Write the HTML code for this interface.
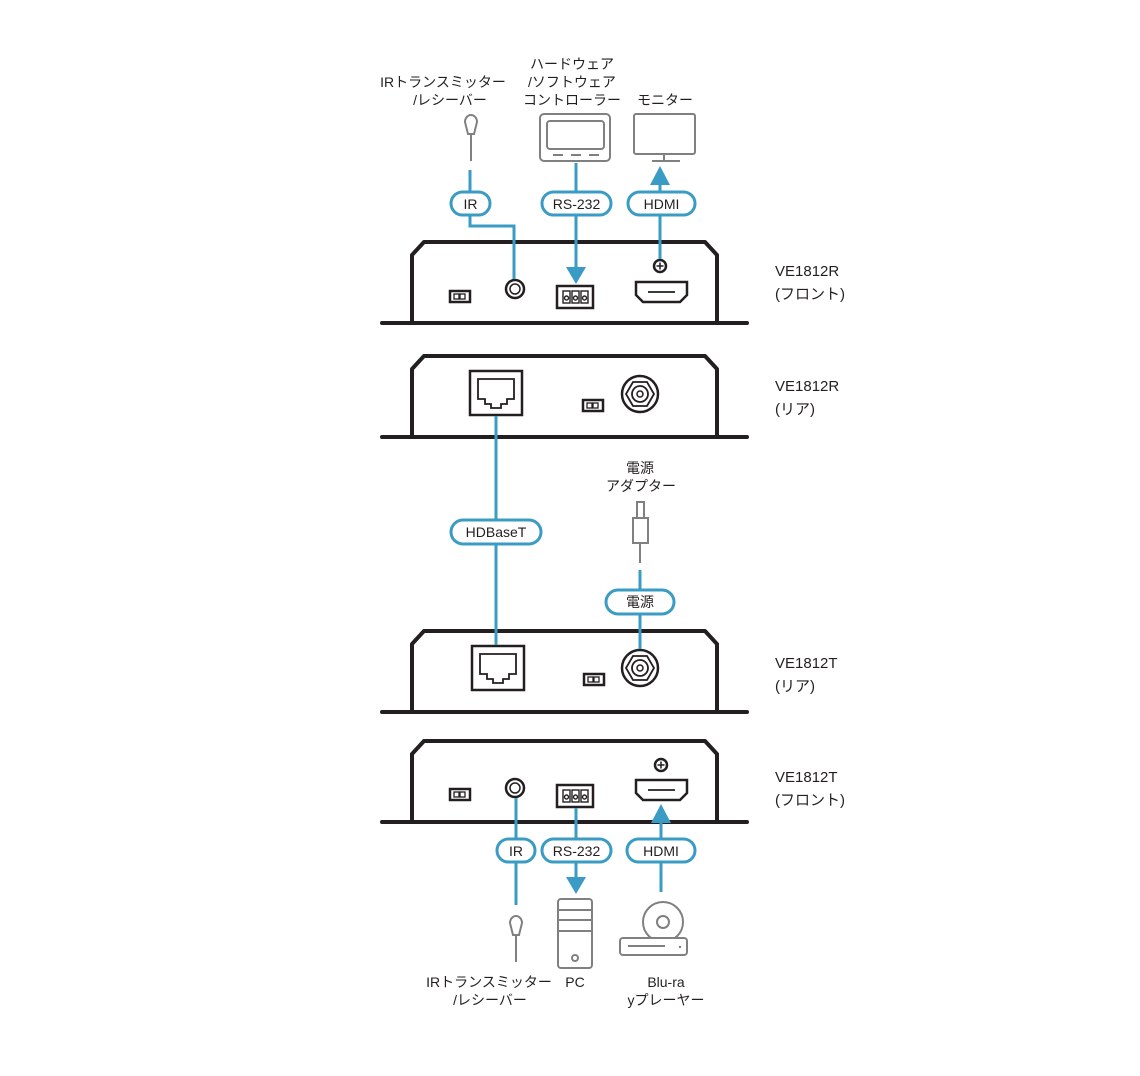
<!DOCTYPE html>
<html><head><meta charset="utf-8"><style>
body{margin:0;background:#fff}
svg{display:block}
text{font-family:"Liberation Sans","Noto Sans CJK JP",sans-serif;fill:#231f20}
</style></head><body>
<svg width="1140" height="1076" viewBox="0 0 1140 1076" xmlns="http://www.w3.org/2000/svg">
<defs>
<g id="box" fill="none" stroke="#231f20" stroke-width="4">
<path d="M412,82 V14 L424,1 H705 L717,14 V82" stroke-linejoin="round"/>
<line x1="382" y1="82" x2="747" y2="82" stroke-linecap="round"/>
</g>
<g id="dip"><rect x="0" y="0" width="20" height="11" fill="none" stroke="#231f20" stroke-width="2.5"/><rect x="4" y="3" width="5" height="5" fill="none" stroke="#231f20" stroke-width="1.3"/><rect x="10" y="3" width="5" height="5" fill="none" stroke="#231f20" stroke-width="1.3"/></g>
<g id="rj"><rect x="0" y="0" width="52" height="44" fill="none" stroke="#231f20" stroke-width="2.5"/><path d="M8,8 H44 V28 H37 V33 H31 V37 H21 V33 H15 V28 H8 Z" fill="none" stroke="#231f20" stroke-width="1.8"/></g>
<g id="bnc" fill="none" stroke="#231f20"><circle r="18" stroke-width="2.5"/><polygon points="14,0 7,12 -7,12 -14,0 -7,-12 7,-12" stroke-width="1.8"/><circle r="8" stroke-width="1.8"/><circle r="3" stroke-width="1.5"/></g>
<g id="rs"><rect x="0" y="0" width="36" height="22" fill="none" stroke="#231f20" stroke-width="2.5"/>
<g fill="none" stroke="#231f20" stroke-width="1.4"><rect x="6" y="5" width="7" height="12"/><rect x="15" y="5" width="7" height="12"/><rect x="24" y="5" width="7" height="12"/><circle cx="9.5" cy="12" r="2"/><circle cx="18.5" cy="12" r="2"/><circle cx="27.5" cy="12" r="2"/></g></g>
<g id="hdmi"><path d="M0,0 H51 V13 L44,20 H7 L0,13 Z" fill="none" stroke="#231f20" stroke-width="2.5"/><line x1="12" y1="10" x2="39" y2="10" stroke="#231f20" stroke-width="1.8"/></g>
<g id="screw"><circle r="6" fill="none" stroke="#231f20" stroke-width="2.5"/><path d="M-3.5,0 H3.5 M0,-3.5 V3.5" stroke="#231f20" stroke-width="1.5"/></g>
<g id="jack"><circle r="9" fill="none" stroke="#231f20" stroke-width="2.5"/><circle r="5" fill="none" stroke="#231f20" stroke-width="1.5"/></g>
<g id="remote" fill="none" stroke="#808080" stroke-width="2"><path d="M-3,19 L-6,7 A6,7 0 0 1 6,7 L3,19 Z"/><line x1="0" y1="19" x2="0" y2="46"/></g>
</defs>

<g font-size="14" text-anchor="middle">
<text x="443" y="87">IRトランスミッター</text>
<text x="450" y="105">/レシーバー</text>
<text x="572" y="69">ハードウェア</text>
<text x="572" y="87">/ソフトウェア</text>
<text x="572" y="105">コントローラー</text>
<text x="665" y="105">モニター</text>
</g>
<use href="#remote" x="471" y="115"/>
<rect x="540" y="114" width="70" height="47" rx="4" fill="none" stroke="#808080" stroke-width="2"/>
<rect x="547" y="121" width="57" height="28" rx="3" fill="none" stroke="#808080" stroke-width="2"/>
<path d="M553,155 H563 M571,155 H581 M589,155 H599" stroke="#808080" stroke-width="2"/>
<rect x="634" y="114" width="61" height="40" rx="2" fill="none" stroke="#808080" stroke-width="2"/>
<path d="M664,154 V161 M652,161 H680" stroke="#808080" stroke-width="2"/>

<use href="#box" x="0" y="241"/>
<use href="#dip" x="450" y="291"/>
<use href="#jack" x="515" y="289"/>
<use href="#rs" x="557" y="286"/>
<use href="#hdmi" x="636" y="282"/>
<use href="#screw" x="660" y="266"/>
<use href="#box" x="0" y="355"/>
<use href="#rj" x="470" y="371"/>
<use href="#dip" x="583" y="400"/>
<use href="#bnc" x="640" y="394"/>
<use href="#box" x="0" y="630"/>
<use href="#rj" x="472" y="646"/>
<use href="#dip" x="584" y="674"/>
<use href="#bnc" x="640" y="668"/>
<use href="#box" x="0" y="740"/>
<use href="#dip" x="450" y="789"/>
<use href="#jack" x="515" y="788"/>
<use href="#rs" x="557" y="785"/>
<use href="#hdmi" x="636" y="780"/>
<use href="#screw" x="661" y="765"/>

<g stroke="#3a9cc4" stroke-width="3" fill="none">
<path d="M470,170 V226 H514 V279"/>
<path d="M576,163 V268"/>
<path d="M660,259 V183"/>
<path d="M496,416 V645"/>
<path d="M640,570 V649"/>
<path d="M516,798 V905"/>
<path d="M576,808 V880"/>
<path d="M661,892 V822"/>
</g>
<g fill="#3a9cc4">
<polygon points="566,267 586,267 576,284"/>
<polygon points="650,185 670,185 660,166"/>
<polygon points="566,877 586,877 576,894"/>
<polygon points="651,823 671,823 661,804"/>
</g>
<g fill="#fff" stroke="#3a9cc4" stroke-width="3">
<rect x="451" y="192" width="39" height="23" rx="11.5"/>
<rect x="542" y="192" width="69" height="23" rx="11.5"/>
<rect x="628" y="192" width="67" height="23" rx="11.5"/>
<rect x="451" y="520" width="90" height="24" rx="12"/>
<rect x="606" y="590" width="68" height="24" rx="12"/>
<rect x="497" y="839" width="38" height="23" rx="11.5"/>
<rect x="542" y="839" width="69" height="23" rx="11.5"/>
<rect x="627" y="839" width="68" height="23" rx="11.5"/>
</g>
<g font-size="14" text-anchor="middle">
<text x="470.5" y="209">IR</text>
<text x="576.5" y="209">RS-232</text>
<text x="661.5" y="209">HDMI</text>
<text x="496" y="537">HDBaseT</text>
<text x="640" y="607">電源</text>
<text x="516" y="856">IR</text>
<text x="576.5" y="856">RS-232</text>
<text x="661" y="856">HDMI</text>
</g>

<g font-size="14" text-anchor="middle">
<text x="640" y="473">電源</text>
<text x="641" y="491">アダプター</text>
</g>
<g fill="none" stroke="#808080" stroke-width="2">
<rect x="637" y="502" width="7" height="16"/>
<rect x="633" y="518" width="15" height="25"/>
<line x1="640" y1="543" x2="640" y2="563"/>
</g>

<use href="#remote" x="516" y="916"/>
<rect x="558" y="899" width="34" height="69" rx="3" fill="none" stroke="#808080" stroke-width="2"/>
<path d="M558,910 H592 M558,920 H592 M558,931 H592" stroke="#808080" stroke-width="2"/>
<circle cx="575" cy="958" r="3" fill="none" stroke="#808080" stroke-width="2"/>
<circle cx="663" cy="922" r="20" fill="#fff" stroke="#808080" stroke-width="2"/>
<circle cx="663" cy="922" r="6" fill="none" stroke="#808080" stroke-width="2"/>
<rect x="620" y="938" width="67" height="17" rx="3" fill="#fff" stroke="#808080" stroke-width="2"/>
<line x1="628" y1="946" x2="665" y2="946" stroke="#808080" stroke-width="2"/>
<circle cx="680" cy="947" r="1.2" fill="#808080"/>
<g font-size="14" text-anchor="middle">
<text x="489" y="987">IRトランスミッター</text>
<text x="490" y="1005">/レシーバー</text>
<text x="575" y="987">PC</text>
<text x="666" y="987">Blu-ra</text>
<text x="666" y="1005">yプレーヤー</text>
</g>

<g font-size="15">
<text x="775" y="276">VE1812R</text>
<text x="775" y="299">(フロント)</text>
<text x="775" y="391">VE1812R</text>
<text x="775" y="414">(リア)</text>
<text x="775" y="668">VE1812T</text>
<text x="775" y="691">(リア)</text>
<text x="775" y="782">VE1812T</text>
<text x="775" y="805">(フロント)</text>
</g>
</svg>
</body></html>
